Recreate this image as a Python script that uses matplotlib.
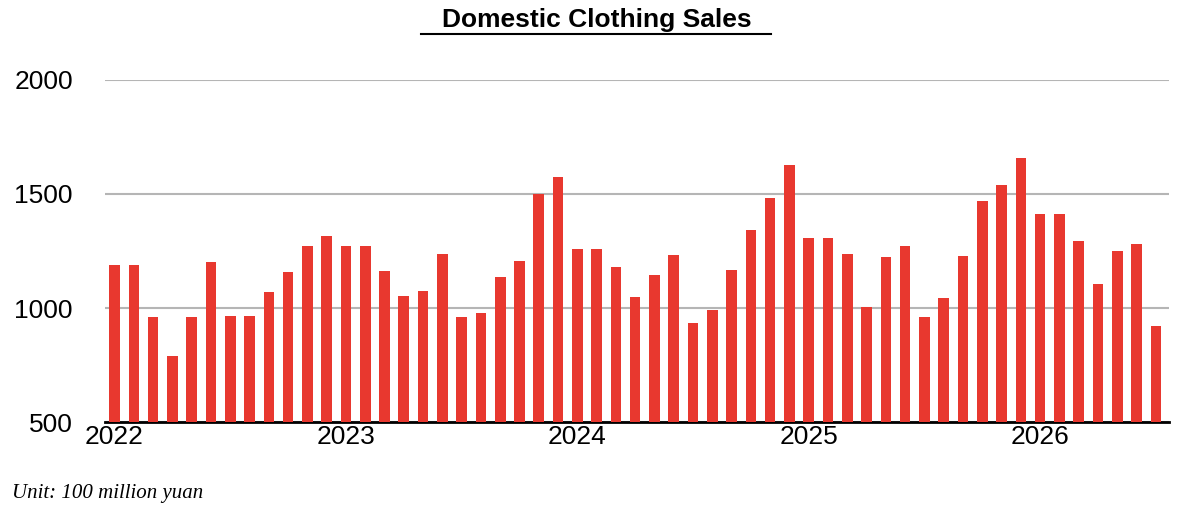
import matplotlib
matplotlib.use("Agg")
import matplotlib.pyplot as plt
import numpy as np

plt.rcParams["font.family"] = ["Liberation Sans", "DejaVu Sans"]

years = ["2022", "2023", "2024", "2025", "2026"]
sales = [1190, 1190, 960, 790, 960, 1200, 963, 963, 1070, 1158, 1272, 1316,
         1272, 1272, 1163, 1053, 1075, 1237, 960, 978, 1136, 1206, 1500, 1575,
         1260, 1260, 1180, 1048, 1145, 1232, 934, 990, 1167, 1342, 1480, 1627,
         1307, 1307, 1237, 1004, 1224, 1272, 960, 1044, 1228, 1469, 1540, 1657,
         1412, 1412, 1294, 1105, 1250, 1280, 921]

fig = plt.figure(figsize=(11.92, 5.08), dpi=100)
ax = fig.add_axes([0.088, 0.169, 0.893, 0.674])
x = np.arange(len(sales))
ax.bar(x, sales, width=0.55, color="#e8382f", zorder=3)
ax.set_ylim(500, 2000)
ax.set_xlim(-0.5, len(sales) - 0.3)
ax.set_yticks([500, 1000, 1500, 2000])
ax.set_xticks(np.arange(len(years)) * 12)
ax.set_xticklabels(years)
ax.tick_params(axis="both", labelsize=19, length=0)
ax.tick_params(axis="y", pad=23)
ax.tick_params(axis="x", pad=2)
ax.grid(axis="y", color="#b5b5b5", linewidth=1.5, zorder=0)
for s in ["left", "right", "top"]:
    ax.spines[s].set_visible(False)
ax.spines["bottom"].set_linewidth(2)
fig.text(0.501, 0.96, "Domestic Clothing Sales", ha="center", va="center",
         fontsize=19, fontweight="bold")
fig.add_artist(plt.Line2D([0.353, 0.647], [0.933, 0.933], color="black", lw=1.5))
fig.text(0.01, 0.02, "Unit: 100 million yuan", fontsize=15, style="italic",
         family="Liberation Serif")
fig.savefig("out.png", dpi=100)
